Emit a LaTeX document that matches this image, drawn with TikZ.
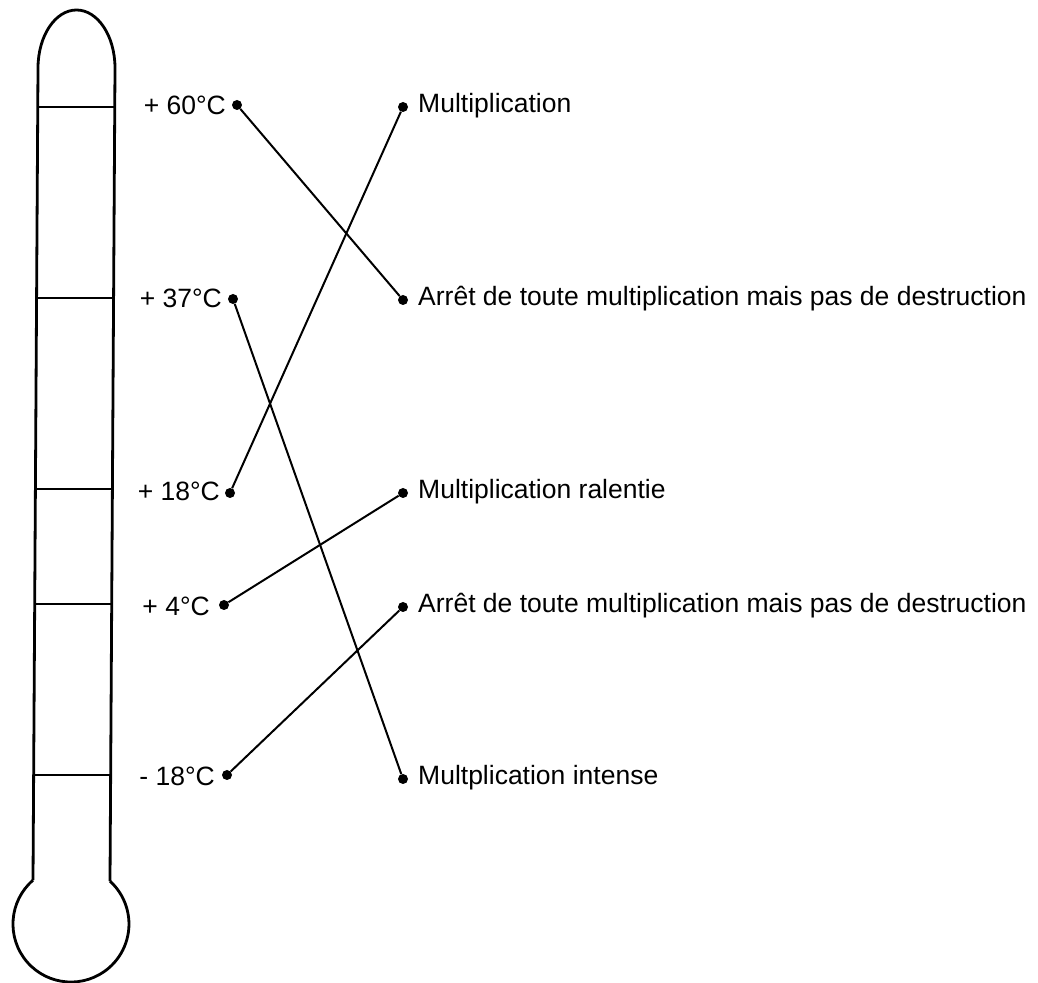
\documentclass[tikz,border=0pt]{standalone}
\usepackage{fontspec}
\setmainfont{Liberation Sans}
\begin{document}
\begin{tikzpicture}[x=1pt,y=1pt,
  glass/.style={line width=2.8pt,line join=round},
  tick/.style={line width=1.6pt},
  link/.style={line width=2pt},
  dot/.style={circle,fill=black,inner sep=0pt,minimum size=10pt},
  lbl/.style={font=\fontsize{26.5}{30}\selectfont,inner sep=0pt}]
\useasboundingbox (0,0) rectangle (1038,982);
% thermometer: rounded top, slightly tilted tube, round bulb
\draw[glass] (33,101.8) -- (38,914) arc[start angle=180,end angle=0,x radius=38.5,y radius=58] -- (110,100.9);
\draw[glass] (33,101.8) arc[start angle=130.9,end angle=407.7,radius=58];
% graduation marks
\foreach \y/\xl/\xr in {875/38/115, 684/37/114, 493/36/113, 378/35.5/112.5, 207/34.5/111.5}
  \draw[tick] (\xl,\y) -- (\xr,\y);
% temperatures
\node[lbl,anchor=east] (t60) at (226,877) {+ 60°C};
\node[lbl,anchor=east] (t37) at (222,684) {+ 37°C};
\node[lbl,anchor=east] (t18) at (220,491) {+ 18°C};
\node[lbl,anchor=east] (t4)  at (210,376) {+ 4°C};
\node[lbl,anchor=east] (tm18) at (215,206) {- 18°C};
\node[dot] (d60) at (237,877) {};
\node[dot] (d37) at (233,683) {};
\node[dot] (d18) at (230,489) {};
\node[dot] (d4)  at (224,377) {};
\node[dot] (dm18) at (227,207) {};
% effects
\node[dot] (e1) at (403,875) {};
\node[dot] (e2) at (403,682) {};
\node[dot] (e3) at (403,489) {};
\node[dot] (e4) at (403,375) {};
\node[dot] (e5) at (403,203) {};
\node[lbl,anchor=west] (m1) at (418,876) {Multiplication};
\node[lbl,anchor=west] (m2) at (418,683) {Arrêt de toute multiplication mais pas de destruction};
\node[lbl,anchor=west] (m3) at (418,490) {Multiplication ralentie};
\node[lbl,anchor=west] (m4) at (418,376) {Arrêt de toute multiplication mais pas de destruction};
\node[lbl,anchor=west] (m5) at (418,204) {Multplication intense};
% connectors
\draw[link] (d60) -- (e2);
\draw[link] (d18) -- (e1);
\draw[link] (d37) -- (e5);
\draw[link] (d4) -- (e3);
\draw[link] (dm18) -- (e4);
\end{tikzpicture}
\end{document}
